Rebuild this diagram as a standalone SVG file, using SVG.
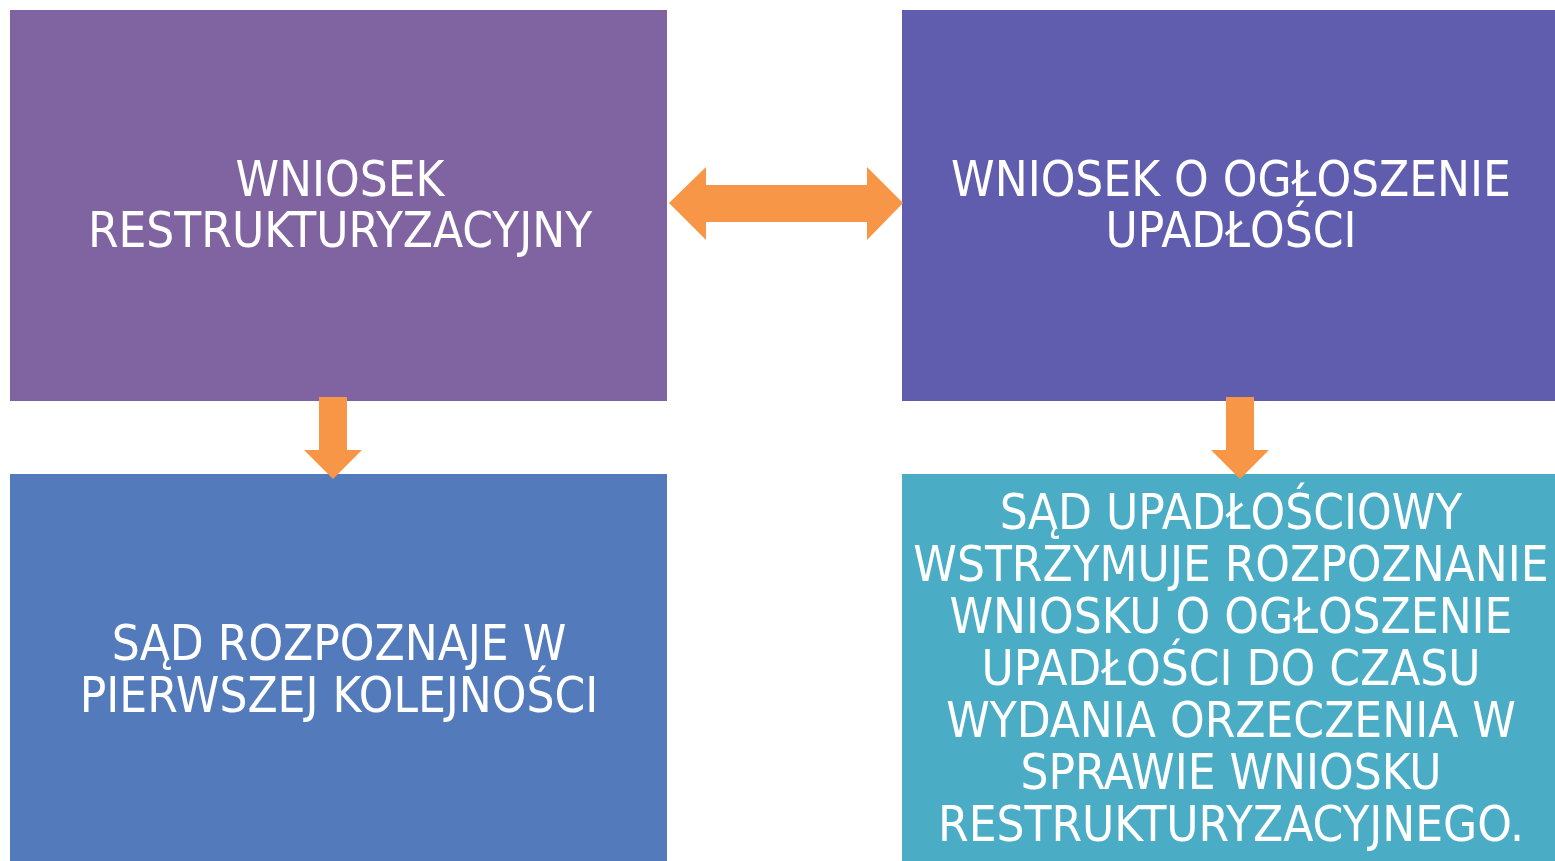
<svg xmlns="http://www.w3.org/2000/svg" width="1555" height="861" viewBox="0 0 1555 861">
<style>
.t{font-family:"DejaVu Sans Condensed","DejaVu Sans","Liberation Sans",sans-serif;font-stretch:condensed;font-size:49px;fill:#fff;text-anchor:middle}
.arr{fill:#F79646}
</style>
<rect width="1555" height="861" fill="#fff"/>
<g id="n1"><rect x="10" y="10" width="657" height="391" fill="#8064A2"/>
<text class="t" x="340" y="196">WNIOSEK</text><text class="t" x="340" y="247">RESTRUKTURYZACYJNY</text></g>
<g id="n2"><rect x="902" y="10" width="653" height="391" fill="#605DAE"/>
<text class="t" x="1231" y="196">WNIOSEK O OGŁOSZENIE</text><text class="t" x="1231" y="247">UPADŁOŚCI</text></g>
<g id="n3"><rect x="10" y="474" width="657" height="387" fill="#537BBC"/>
<text class="t" x="339" y="660">SĄD ROZPOZNAJE W</text><text class="t" x="339" y="712">PIERWSZEJ KOLEJNOŚCI</text></g>
<g id="n4"><rect x="902" y="474" width="653" height="387" fill="#4BACC6"/>
<text class="t" x="1231" y="529">SĄD UPADŁOŚCIOWY</text>
<text class="t" x="1231" y="581">WSTRZYMUJE ROZPOZNANIE</text>
<text class="t" x="1231" y="633">WNIOSKU O OGŁOSZENIE</text>
<text class="t" x="1231" y="685">UPADŁOŚCI DO CZASU</text>
<text class="t" x="1231" y="737">WYDANIA ORZECZENIA W</text>
<text class="t" x="1231" y="789">SPRAWIE WNIOSKU</text>
<text class="t" x="1231" y="841">RESTRUKTURYZACYJNEGO.</text></g>
<g id="connectors">
<polygon class="arr" points="669,203 706,167 706,185 867,185 867,167 903,203 867,240 867,222 706,222 706,240"/>
<polygon class="arr" points="319,397 347,397 347,450 362,450 333,479 304,450 319,450"/>
<polygon class="arr" points="1226,397 1254,397 1254,450 1269,450 1240,479 1211,450 1226,450"/>
</g>
</svg>
